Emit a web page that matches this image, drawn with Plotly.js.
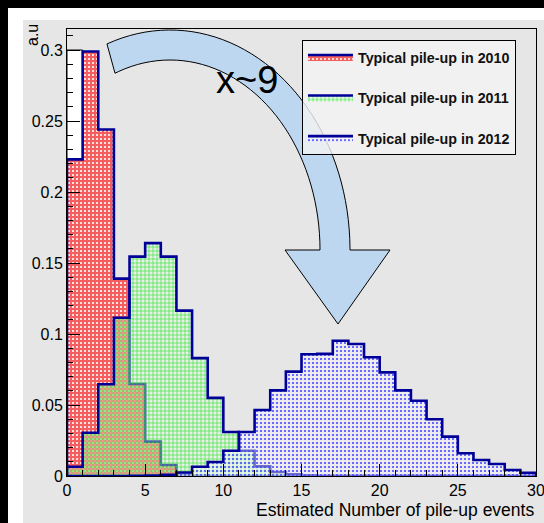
<!DOCTYPE html>
<html>
<head>
<meta charset="utf-8">
<script src="https://cdn.plot.ly/plotly-3.0.1.min.js"></script>
<style>
  html, body { margin:0; padding:0; }
  body { background:#000; width:544px; height:523px; overflow:hidden; position:relative; }
  #frame { position:absolute; left:8px; top:8px; width:536px; height:515px; background:#fff; }
  #chart { position:absolute; left:23px; top:20px; width:521px; height:503px; }
</style>
</head>
<body>
<div id="frame"></div>
<div id="chart"></div>
<script>
// ---- data (bin lower edges, width 1) ----
const binLow = [0,1,2,3,4,5,6,7,8,9,10,11,12,13,14,15,16,17,18,19,20,21,22,23,24,25,26,27,28,29];
const binHigh = 30;
const pileup2010 = [0.223,0.299,0.244,0.139,0.0648,0.0242,0.0077,0.0012,0.0002,0,0,0,0,0,0,0,0,0,0,0,0,0,0,0,0,0,0,0,0,0];
const pileup2011 = [0.0065,0.0305,0.0646,0.1115,0.1545,0.164,0.1545,0.1165,0.083,0.055,0.031,0.0178,0.0068,0.0028,0.0012,0.0003,0,0,0,0,0,0,0,0,0,0,0,0,0,0];
const pileup2012 = [0,0,0,0,0.0002,0.0004,0.0009,0.0025,0.0065,0.0099,0.0178,0.031,0.0465,0.0603,0.0735,0.0857,0.086,0.0953,0.093,0.0836,0.073,0.0603,0.053,0.040,0.0277,0.016,0.0113,0.0085,0.0042,0.0023];
const seriesNames = ['Typical pile-up in 2010','Typical pile-up in 2011','Typical pile-up in 2012'];
const xTicks = [0,5,10,15,20,25,30];
const yTicks = [0,0.05,0.1,0.15,0.2,0.25,0.3];
const yTickText = ['0','0.05','0.1','0.15','0.2','0.25','0.3'];
const whiteBoxTop = 0.30;
const factorLabel = 'x~9';

const YMAX = 0.3148;
const W = 521, H = 503, ML = 44, MR = 8, MT = 9, MB = 47;
const PW = W - ML - MR, PH = H - MT - MB;
const FONT = 'Liberation Sans, Arial, Helvetica, sans-serif';
const NAVY = '#000099';

function stepX() { return [binLow[0]].concat(binLow).concat([binHigh]); }
function stepY(v) { return [0].concat(v).concat([0]); }

function histTrace(vals, name, pattern) {
  return {
    type:'scatter', mode:'lines', x:stepX(), y:stepY(vals), name:name,
    line:{shape:'hv', color:NAVY, width:2.6},
    fill:'tozeroy', fillcolor:'rgba(0,0,0,0)', fillpattern:pattern,
    legendgroup:name, hoverinfo:'skip'
  };
}

const traces = [
  histTrace(pileup2010, seriesNames[0], {shape:'.', bgcolor:'#f45e5e', fgcolor:'#ffffff', size:4, solidity:0.22}),
  histTrace(pileup2011, seriesNames[1], {shape:'+', bgcolor:'rgba(235,255,235,0.35)', fgcolor:'#18e818', size:4, solidity:0.26}),
  histTrace(pileup2012, seriesNames[2], {shape:'.', bgcolor:'rgba(245,245,255,0.45)', fgcolor:'#4848ff', size:4, solidity:0.22})
];

// pixel (page coords) -> data coords
const OX = 23, OY = 20;
function toData(px, py) {
  const x = (px - OX - ML) / PW * 30;
  const y = (H - MB + OY - py) / PH * YMAX;
  return [x, y];
}

// curved arrow decoration
function arrowPath() {
  const cx = 170, cy = 250;
  const pts = [];
  const aO = 180, bO = 220, aI = 150, bI = 190;
  const t0 = 110.5;
  for (let t = t0; t >= 0; t -= 2.5) {
    const r = t * Math.PI / 180;
    pts.push([cx + aO * Math.cos(r), cy - bO * Math.sin(r)]);
  }
  pts.push([cx + aO, cy]);
  pts.push([390, 250]);
  pts.push([338, 324]);
  pts.push([285, 250]);
  pts.push([cx + aI, cy]);
  for (let t = 0; t <= 111.5; t += 2.5) {
    const r = t * Math.PI / 180;
    pts.push([cx + aI * Math.cos(r), cy - bI * Math.sin(r)]);
  }
  pts.push([cx + aI * Math.cos(111.5*Math.PI/180), cy - bI * Math.sin(111.5*Math.PI/180)]);
  return pts.map((p, i) => { const d = toData(p[0], p[1]); return (i ? 'L' : 'M') + d[0].toFixed(4) + ',' + d[1].toFixed(5); }).join(' ') + ' Z';
}

const layout = {
  width: W, height: H,
  margin: {l:ML, r:MR, t:MT, b:MB, pad:0},
  paper_bgcolor:'#e6e6e6', plot_bgcolor:'#e6e6e6',
  showlegend:true,
  legend:{
    x:0.501, y:0.975, xanchor:'left', yanchor:'top',
    bgcolor:'rgba(244,244,244,0.8)', bordercolor:'#000', borderwidth:1,
    font:{family:FONT, size:14.3, color:'#111', weight:'bold'},
    tracegroupgap:19, itemwidth:45, traceorder:'grouped'
  },
  xaxis:{
    range:[0,30], tickvals:xTicks, ticks:'inside', ticklen:12, tickcolor:'#000', tickwidth:1,
    showline:true, mirror:true, linecolor:'#000', linewidth:1, showgrid:false, zeroline:false,
    minor:{dtick:1, tick0:0, ticks:'inside', ticklen:6, tickcolor:'#000', tickwidth:1, showgrid:false},
    tickfont:{family:FONT, size:16, color:'#000'}, ticklabeloverflow:'allow', fixedrange:true
  },
  yaxis:{
    range:[0,YMAX], tickvals:yTicks, ticktext:yTickText, ticks:'inside', ticklen:13, tickcolor:'#000', tickwidth:1,
    showline:true, mirror:true, linecolor:'#000', linewidth:1, showgrid:false, zeroline:false,
    minor:{dtick:0.01, tick0:0, ticks:'inside', ticklen:6, tickcolor:'#000', tickwidth:1, showgrid:false},
    tickfont:{family:FONT, size:16, color:'#000'}, fixedrange:true
  },
  shapes:[
    {type:'rect', xref:'x', yref:'y', x0:binLow[0], x1:binLow[1], y0:pileup2010[0], y1:whiteBoxTop,
     fillcolor:'#ffffff', line:{color:'#000', width:1}, layer:'below'},
    {type:'path', xref:'x', yref:'y', path:arrowPath(), fillcolor:'rgb(190,215,240)', line:{color:'#000', width:1}, layer:'above'}
  ],
  annotations:[
    {text:factorLabel, xref:'paper', yref:'paper', x:(247-OX-ML)/PW, y:(H-MB+OY-80)/PH, showarrow:false,
     xanchor:'center', yanchor:'middle', font:{family:FONT, size:38, color:'#000'}},
    {text:'Estimated Number of pile-up events', xref:'paper', yref:'paper', x:1, y:-0.076, showarrow:false,
     xanchor:'right', yanchor:'middle', font:{family:FONT, size:17.5, color:'#000'}},
    {text:'a.u', xref:'paper', yref:'paper', x:(33-OX-ML)/PW, y:(H-MB+OY-35)/PH, showarrow:false, textangle:-90,
     xanchor:'center', yanchor:'middle', font:{family:FONT, size:16, color:'#000'}}
  ]
};

Plotly.newPlot('chart', traces, layout, {displayModeBar:false, staticPlot:true});
</script>
</body>
</html>
